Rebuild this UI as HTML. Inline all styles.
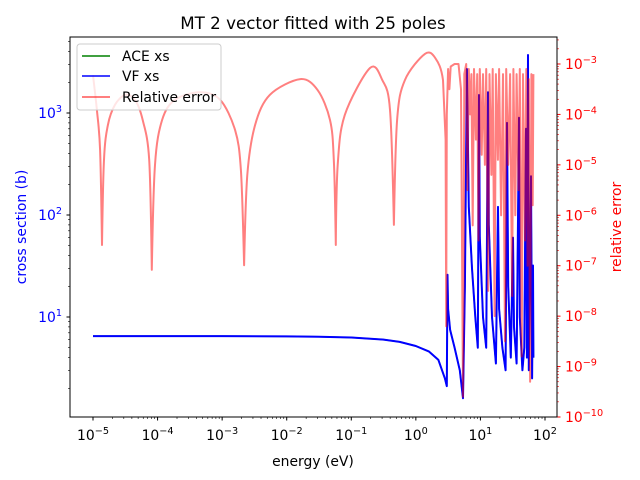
<!DOCTYPE html>
<html><head><meta charset="utf-8"><style>
body{margin:0;background:#fff}
svg{display:block;font-family:"DejaVu Sans","Liberation Sans",sans-serif}
</style></head><body>
<svg id="c" width="640" height="480" xmlns="http://www.w3.org/2000/svg">
<text x="313" y="29" text-anchor="middle" font-size="16.7">MT 2 vector fitted with 25 poles</text>
<text x="313" y="466" text-anchor="middle" font-size="13.9">energy (eV)</text>
<text x="26" y="227" text-anchor="middle" font-size="13.9" fill="blue" transform="rotate(-90 26 227)">cross section (b)</text>
<text x="621" y="227" text-anchor="middle" font-size="13.9" fill="red" transform="rotate(-90 621 227)">relative error</text>
<defs><clipPath id="pc"><rect x="70" y="37" width="487" height="380"/></clipPath></defs>
<g id="plot" clip-path="url(#pc)"></g>
<g id="axes"></g>
<rect x="70" y="37" width="487" height="380" fill="none" stroke="#000" stroke-width="1"/>
<g>
<rect x="77" y="44" width="144" height="66" rx="3" fill="#fff" fill-opacity="0.8" stroke="#ccc"/>
<line x1="82" y1="56" x2="110" y2="56" stroke="green" stroke-width="1.5"/>
<text x="122" y="61" font-size="13.9">ACE xs</text>
<line x1="82" y1="76" x2="110" y2="76" stroke="blue" stroke-width="1.5"/>
<text x="122" y="81" font-size="13.9">VF xs</text>
<line x1="82" y1="97" x2="110" y2="97" stroke="red" stroke-opacity="0.5" stroke-width="2"/>
<text x="122" y="102" font-size="13.9">Relative error</text>
</g>
</svg>
<script>
// log10 energies (eV)
const xsLogE=[-5,-3,-2,-1.5,-1,-0.5,-0.25,0,0.2,0.35,0.45,0.48,0.49,0.50,0.53,0.6,0.68,0.73,0.76,0.79,0.82,0.87,0.92,0.96,0.978,0.99,1.04,1.09,1.117,1.13,1.18,1.24,1.272,1.29,1.34,1.39,1.412,1.43,1.47,1.505,1.52,1.56,1.597,1.61,1.65,1.68,1.706,1.72,1.737,1.75,1.783,1.80,1.814,1.82];
// cross section (b)
const xsVals=[6.5,6.5,6.45,6.4,6.3,6.0,5.7,5.2,4.6,3.8,2.5,2.1,26,12,7.5,5,3,1.6,20,2700,120,30,10,5,1500,60,10,5,1600,80,10,3.5,120,12,5,3,800,20,4,60,8,3.5,900,10,3,5,700,4,3700,3,240,2.5,32,4];
const errLogE=[-5,-4.94,-4.89,-4.86,-4.83,-4.77,-4.66,-4.5,-4.35,-4.23,-4.13,-4.09,-4.04,-3.93,-3.73,-3.34,-3.03,-2.8,-2.71,-2.66,-2.61,-2.49,-2.26,-1.79,-1.52,-1.33,-1.27,-1.24,-1.21,-1.1,-0.71,-0.52,-0.4,-0.34,-0.29,-0.17,0.14,0.3,0.42,0.46,0.47,0.48,0.5,0.52,0.54,0.6,0.66,0.7,0.73,0.75,0.78,0.8,0.82,0.84,0.86,0.88,0.9,0.93,0.95,0.97,0.99,1.02,1.04,1.07,1.09,1.12,1.14,1.17,1.19,1.22,1.24,1.27,1.29,1.32,1.35,1.38,1.4,1.43,1.46,1.49,1.51,1.54,1.56,1.59,1.61,1.64,1.66,1.69,1.71,1.73,1.75,1.77,1.79,1.81,1.82];
// log10 relative error
const errLogVals=[-3.22,-3.91,-4.71,-6.59,-4.9,-4.21,-3.81,-3.61,-3.71,-4.11,-4.9,-7.08,-5,-4.11,-3.71,-3.56,-3.71,-4.31,-5.1,-6.99,-5.2,-4.21,-3.61,-3.3,-3.52,-4.11,-4.9,-6.59,-5,-4.01,-3.08,-3.32,-3.91,-6.19,-4.11,-3.32,-2.8,-2.88,-3.32,-4.5,-8.2,-4,-3.1,-3.5,-3.05,-3,-3,-3.5,-9.6,-3.2,-3,-5.5,-3.1,-4,-3.2,-6.2,-3.1,-4.5,-3.2,-6.5,-3.1,-4.8,-3.2,-5,-3.1,-7.5,-3.2,-5.2,-3.1,-8,-3.2,-4.9,-3.1,-6,-3.2,-8.5,-3.1,-5,-3.2,-7.6,-3.1,-6,-3.2,-5.5,-3.1,-8.8,-3.2,-6.5,-3.1,-7,-3.3,-9.3,-3.2,-5.8,-3.2];
const xTicks=[-5,-4,-3,-2,-1,0,1,2];
const yLeftTicks=[1,2,3];
const yRightTicks=[-10,-9,-8,-7,-6,-5,-4,-3];

const NS="http://www.w3.org/2000/svg";
const X=le=>93+(le+5)*64.57;
const YL=v=>317-(Math.log10(v)-1)*102;
const YR=l=>64-(l+3)*50.43;
function mk(t,a,p){const e=document.createElementNS(NS,t);for(const k in a)e.setAttribute(k,a[k]);p.appendChild(e);return e;}
const plot=document.getElementById('plot'),axes=document.getElementById('axes');

let d=xsLogE.map((e,i)=>(i?'L':'M')+X(e).toFixed(1)+' '+YL(xsVals[i]).toFixed(1)).join('');
const g=mk('path',{d:d,fill:'none',stroke:'green','stroke-width':1.5},plot);


const b=mk('path',{d:d,fill:'none',stroke:'blue','stroke-width':2,'stroke-linejoin':'round'},plot);



const P=errLogE.map((e,i)=>[X(e),YR(errLogVals[i])]);
let d2='M'+P[0][0].toFixed(1)+' '+P[0][1].toFixed(1);
for(let i=0;i<P.length-1;i++){
  const p1=P[i],p2=P[i+1];
  if(errLogE[i+1]<=0.42){
    const p0=P[Math.max(0,i-1)],p3=P[Math.min(P.length-1,i+2)];
    const k=0.16;
    let c1=[p1[0]+(p2[0]-p0[0])*k,p1[1]+(p2[1]-p0[1])*k];
    let c2=[p2[0]-(p3[0]-p1[0])*k,p2[1]-(p3[1]-p1[1])*k];
    if(p1[1]>p0[1]&&p1[1]>p2[1])c1=p1;
    if(p2[1]>p1[1]&&p2[1]>p3[1])c2=p2;
    d2+='C'+c1[0].toFixed(1)+' '+c1[1].toFixed(1)+' '+c2[0].toFixed(1)+' '+c2[1].toFixed(1)+' '+p2[0].toFixed(1)+' '+p2[1].toFixed(1);
  } else d2+='L'+p2[0].toFixed(1)+' '+p2[1].toFixed(1);
}
const r=mk('path',{d:d2,fill:'none',stroke:'red','stroke-opacity':0.5,'stroke-width':2,'stroke-linejoin':'round'},plot);



function lbl(x,y,exp,anchor,color){
  const t=mk('text',{x:x,y:y,'font-size':13.9,'text-anchor':anchor,fill:color},axes);
  t.textContent='10';
  const s=mk('tspan',{dy:-6,'font-size':9.7},t);
  s.textContent=(exp<0?'\u2212':'')+Math.abs(exp);
  return t;
}
const mins=[2,3,4,5,6,7,8,9];
xTicks.forEach(e=>{
  const x=X(e);
  mk('line',{x1:x,y1:417,x2:x,y2:420.5,stroke:'#000'},axes);
  const t=lbl(x,440,e,'middle','#000');
  
  
  mins.forEach(m=>{const xm=X(e+Math.log10(m));if(xm>70&&xm<557)mk('line',{x1:xm,y1:417,x2:xm,y2:419,stroke:'#000','stroke-width':0.6},axes);});
});
yLeftTicks.forEach(e=>{
  const y=YL(Math.pow(10,e));
  mk('line',{x1:66.5,y1:y,x2:70,y2:y,stroke:'#000'},axes);
  const t=lbl(62,y+5,e,'end','blue');
  
  
});
[0,1,2,3].forEach(e=>mins.forEach(m=>{const y=YL(m*Math.pow(10,e));if(y>37&&y<417)mk('line',{x1:68,y1:y,x2:70,y2:y,stroke:'#000','stroke-width':0.6},axes);}));
yRightTicks.forEach(e=>{
  const y=YR(e);
  mk('line',{x1:557,y1:y,x2:560.5,y2:y,stroke:'red'},axes);
  const t=lbl(565,y+5,e,'start','red');
  
  
});
[-10,-9,-8,-7,-6,-5,-4,-3].forEach(e=>mins.forEach(m=>{const y=YR(e+Math.log10(m));if(y>37&&y<417)mk('line',{x1:557,y1:y,x2:559,y2:y,stroke:'red','stroke-width':0.6},axes);}));
</script>
</body></html>
